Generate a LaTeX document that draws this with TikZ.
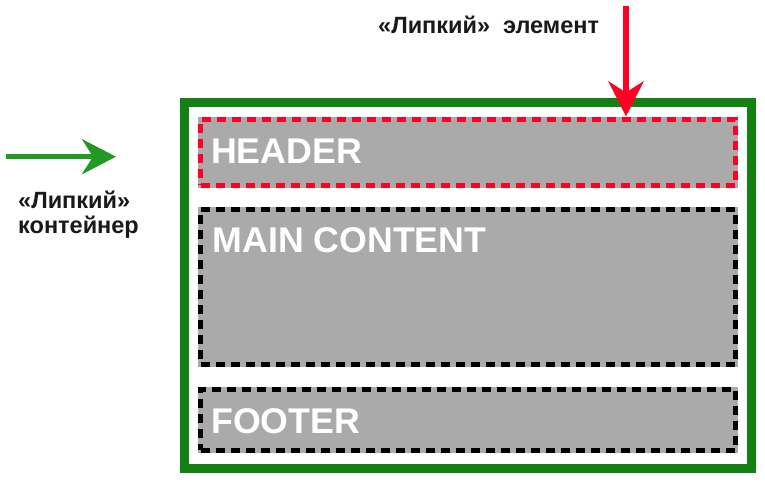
\documentclass[tikz,border=0pt]{standalone}
\usepackage{fontspec}
\setmainfont{Liberation Sans}
\usepackage{xcolor}
\usetikzlibrary{arrows.meta, calc, positioning}
\definecolor{boxgreen}{HTML}{138013}
\definecolor{arrgreen}{HTML}{229922}
\definecolor{boxred}{HTML}{FF0022}
\definecolor{boxgray}{HTML}{AAAAAA}

\begin{document}
\begin{tikzpicture}[x=1pt, y=-1pt,
  block/.style={rectangle, fill=boxgray, line width=5pt, dash pattern=on 9pt off 6pt, preaction={draw=boxgray, solid, line width=5pt}, inner sep=0pt, minimum width=534.5pt},
  blocktext/.style={anchor=base west, text=white, font=\bfseries\fontsize{35.7}{40}\selectfont, inner sep=0pt},
  lbl/.style={anchor=base west, font=\bfseries\fontsize{23.5}{25}\selectfont, text=black!90, inner sep=0pt}]
\useasboundingbox (0,0) rectangle (765,482);

% sticky container
\node[rectangle, draw=boxgreen, line width=9pt, inner sep=0pt, minimum width=567pt, minimum height=365.5pt] (cont) at (468,285.25) {};

% blocks
\node[block, draw=boxred, minimum height=66pt] (hdr) at (467.75,152) {};
\node[block, draw=black, minimum height=155pt] (main) at (467.75,286.5) {};
\node[block, draw=black, minimum height=61pt] (ftr) at (467.75,419.5) {};

\node[blocktext] (hdrtext) at ([xshift=13pt, yshift=-11.3pt]hdr.center -| hdr.west) {HEADER};
\node[blocktext] (maintext) at ([xshift=14.5pt, yshift=-45.5pt]main.north west) {MAIN CONTENT};
\node[blocktext] (ftrtext) at ([xshift=13pt, yshift=-13.5pt]ftr.center -| ftr.west) {FOOTER};

% sticky element
\node[lbl] (elemlbl) at (378,33) {«Липкий»\ \ элемент};
\coordinate (elemtop) at (626,6);
\draw[boxred, line width=6pt, -{Stealth[length=35pt, width=35pt, inset=11pt]}] (elemtop) -- (elemtop |- hdr.north);

% sticky container label
\node[lbl] (contlbl) at (18,208) {«Липкий»};
\node[lbl] (contlbl2) at ([yshift=-25pt]contlbl.base west) {контейнер};
\coordinate (contfrom) at (6,156.7);
\coordinate (contto) at (116,156.7);
\draw[arrgreen, line width=5pt, -{Stealth[length=34pt, width=35pt, inset=11pt]}] (contfrom) -- (contto);
\end{tikzpicture}
\end{document}
